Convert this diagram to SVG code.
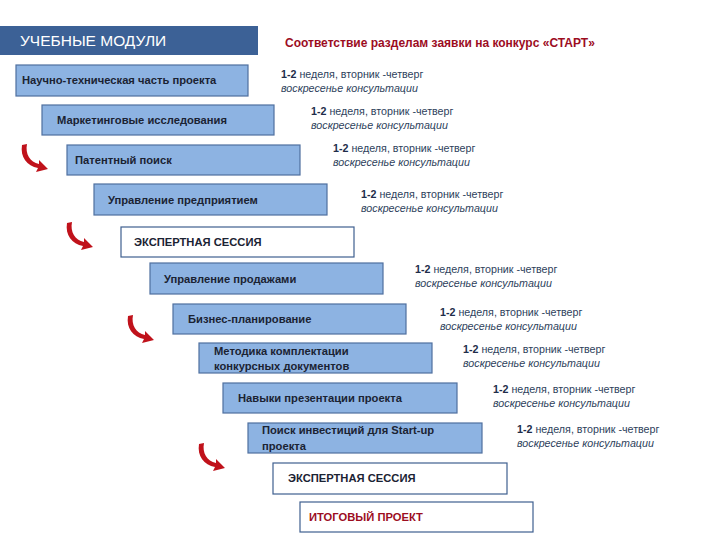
<svg xmlns="http://www.w3.org/2000/svg" width="720" height="540" viewBox="0 0 720 540">
<defs>
<style>
.box{fill:#8db3e2;stroke:#4f6f9f;stroke-width:1.2}
.wbox{fill:#ffffff;stroke:#3f5f8f;stroke-width:1.2}
.bt{font-family:"Liberation Sans","Noto Sans",sans-serif;font-size:11.2px;font-weight:bold;fill:#1b2333}
.st{font-family:"Liberation Sans","Noto Sans",sans-serif;font-size:10.7px;fill:#2e3f5c}
.st .b{font-weight:bold;fill:#1e2d4a}
.it{font-style:italic}
.hdr{font-family:"Liberation Sans","Noto Sans",sans-serif;font-size:15.5px;fill:#ffffff}
.ttl{font-family:"Liberation Sans","Noto Sans",sans-serif;font-size:12px;font-weight:bold;fill:#9c0d1f}
</style>
<g id="curl">
<path d="M0,0 L5,-1 C3,9 8,17 17,19 L17,15 L26,24 L14,27 L16,23 C5,21 -2,12 0,0 Z" fill="#c0121b"/>
</g>
</defs>

<g id="header">
<rect x="0" y="26" width="258" height="29" fill="#3c6196"/>
<text class="hdr" x="20" y="46">УЧЕБНЫЕ МОДУЛИ</text>
</g>
<g id="title">
<text class="ttl" x="285" y="47">Соответствие разделам заявки на конкурс «СТАРТ»</text>
</g>

<g id="m1"><rect class="box" x="16" y="65" width="232" height="31"/><text class="bt" x="22" y="84">Научно-техническая часть проекта</text></g>
<g id="m2"><rect class="box" x="42" y="105" width="232" height="30"/><text class="bt" x="57" y="124">Маркетинговые исследования</text></g>
<g id="m3"><rect class="box" x="67" y="145" width="233" height="30"/><text class="bt" x="75" y="164">Патентный поиск</text></g>
<g id="m4"><rect class="box" x="94" y="184" width="233" height="31"/><text class="bt" x="108" y="204">Управление предприятием</text></g>
<g id="m5"><rect class="wbox" x="121" y="227" width="233" height="30"/><text class="bt" x="134" y="246">ЭКСПЕРТНАЯ СЕССИЯ</text></g>
<g id="m6"><rect class="box" x="150" y="263" width="233" height="31"/><text class="bt" x="164" y="283">Управление продажами</text></g>
<g id="m7"><rect class="box" x="173" y="304" width="233" height="30"/><text class="bt" x="188" y="323">Бизнес-планирование</text></g>
<g id="m8"><rect class="box" x="199" y="343" width="233" height="30"/><text class="bt" x="214" y="355">Методика комплектации</text><text class="bt" x="214" y="370">конкурсных документов</text></g>
<g id="m9"><rect class="box" x="223" y="383" width="234" height="30"/><text class="bt" x="238" y="402">Навыки презентации проекта</text></g>
<g id="m10"><rect class="box" x="248" y="423" width="234" height="30"/><text class="bt" x="262" y="434">Поиск инвестиций для Start-up</text><text class="bt" x="262" y="450">проекта</text></g>
<g id="m11"><rect class="wbox" x="273" y="463" width="234" height="31"/><text class="bt" x="288" y="482">ЭКСПЕРТНАЯ СЕССИЯ</text></g>
<g id="m12"><rect class="wbox" x="300" y="502" width="233" height="30"/><text class="bt" x="309" y="521" style="fill:#9c0d1f">ИТОГОВЫЙ ПРОЕКТ</text></g>

<g id="schedule">
<text class="st" x="281" y="78"><tspan class="b">1-2</tspan> неделя, вторник -четверг</text><text class="st it" x="281" y="92">воскресенье консультации</text>
<text class="st" x="311" y="115"><tspan class="b">1-2</tspan> неделя, вторник -четверг</text><text class="st it" x="311" y="129">воскресенье консультации</text>
<text class="st" x="333" y="152"><tspan class="b">1-2</tspan> неделя, вторник -четверг</text><text class="st it" x="333" y="166">воскресенье консультации</text>
<text class="st" x="361" y="198"><tspan class="b">1-2</tspan> неделя, вторник -четверг</text><text class="st it" x="361" y="212">воскресенье консультации</text>
<text class="st" x="415" y="273"><tspan class="b">1-2</tspan> неделя, вторник -четверг</text><text class="st it" x="415" y="287">воскресенье консультации</text>
<text class="st" x="440" y="316"><tspan class="b">1-2</tspan> неделя, вторник -четверг</text><text class="st it" x="440" y="330">воскресенье консультации</text>
<text class="st" x="463" y="353"><tspan class="b">1-2</tspan> неделя, вторник -четверг</text><text class="st it" x="463" y="367">воскресенье консультации</text>
<text class="st" x="493" y="393"><tspan class="b">1-2</tspan> неделя, вторник -четверг</text><text class="st it" x="493" y="407">воскресенье консультации</text>
<text class="st" x="517" y="433"><tspan class="b">1-2</tspan> неделя, вторник -четверг</text><text class="st it" x="517" y="447">воскресенье консультации</text>
</g>

<g id="connectors">
<use href="#curl" x="22" y="145"/>
<use href="#curl" x="67" y="223"/>
<use href="#curl" x="128" y="316"/>
<use href="#curl" x="199" y="444"/>
</g>
</svg>
